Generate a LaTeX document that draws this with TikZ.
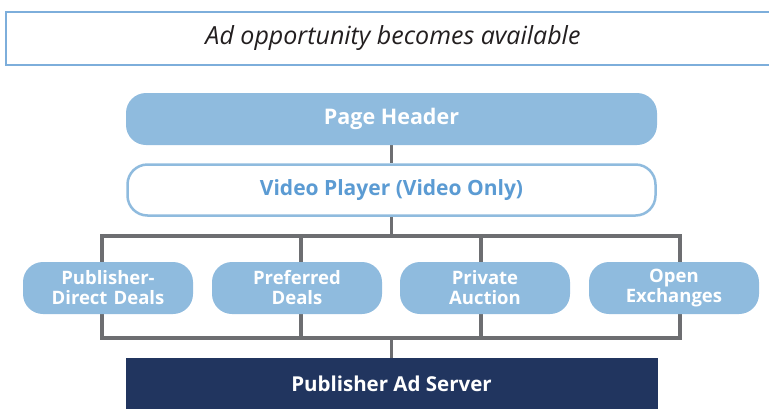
\documentclass[tikz,border=0pt]{standalone}
\usepackage{fontspec}
\setmainfont{Open Sans}
\usetikzlibrary{positioning,backgrounds}
\definecolor{paleblue}{HTML}{8FBBDE}
\definecolor{rimblue}{HTML}{7DAEDB}
\definecolor{midblue}{HTML}{5B9BD3}
\definecolor{navy}{HTML}{21355F}
\definecolor{linkgray}{HTML}{6D6E71}
\definecolor{textgray}{HTML}{231F20}
\tikzstyle{banner} = [rectangle, draw=rimblue, line width=1.5pt, fill=white,
    minimum width=774pt, minimum height=53pt, text=textgray,
    font=\fontsize{25}{28}\selectfont\itshape]
\tikzstyle{headbox} = [rectangle, fill=paleblue, rounded corners=20pt, text=white,
    minimum width=531pt, minimum height=52pt, font=\fontsize{21.5}{24}\selectfont\bfseries]
\tikzstyle{playerbox} = [rectangle, draw=paleblue, line width=2.5pt, fill=white,
    rounded corners=20pt, text=midblue, minimum width=528pt, minimum height=51pt,
    font=\fontsize{21}{24}\selectfont\bfseries]
\tikzstyle{dealbox} = [rectangle, fill=paleblue, rounded corners=20pt, text=white,
    text width=165pt, align=center, inner sep=0pt, minimum width=170pt,
    minimum height=52pt, font=\fontsize{18.5}{20}\selectfont\bfseries]
\tikzstyle{serverbox} = [rectangle, fill=navy, text=white,
    minimum width=532pt, minimum height=52pt, font=\fontsize{20.5}{23}\selectfont\bfseries]
\tikzstyle{link} = [draw=linkgray, line width=3.5pt]

\begin{document}
\begin{tikzpicture}[x=1pt, y=-1pt]
    \useasboundingbox (0,0) rectangle (769,408);
    % Place nodes
    \node [banner] (start) at (393,38.5) {Ad opportunity becomes available};
    \node [headbox] (header) at (391.5,119) {Page Header};
    \node [playerbox, below of=header, node distance=71pt] (player) {Video Player (Video Only)};
    \node [dealbox] (direct) at (108,288) {Publisher-\\Direct Deals};
    \node [dealbox, right of=direct, node distance=189pt] (preferred) {Preferred\\Deals};
    \node [dealbox, right of=preferred, node distance=188pt] (auction) {Private\\Auction};
    \node [dealbox, right of=auction, node distance=189pt] (exchange) {Open\\Exchanges};
    \node [serverbox, below of=player, node distance=194pt] (server) {Publisher Ad Server};
    % Bracket corners
    \coordinate (split) at (391.5,236);
    \coordinate (join) at (391.5,338);
    \coordinate (topleft) at (102,236);
    \coordinate (botright) at (680,338);
    \coordinate (top2) at (301,236);
    \coordinate (bot2) at (301,338);
    \coordinate (top3) at (481,236);
    \coordinate (bot3) at (481,338);
    % Draw edges
    \begin{scope}[on background layer]
    \path [link] (header) -- (player);
    \path [link] (player) -- (split);
    \path [link] (topleft) rectangle (botright);
    \path [link] (top2) -- (bot2);
    \path [link] (top3) -- (bot3);
    \path [link] (join) -- (server);
    \end{scope}
\end{tikzpicture}
\end{document}
